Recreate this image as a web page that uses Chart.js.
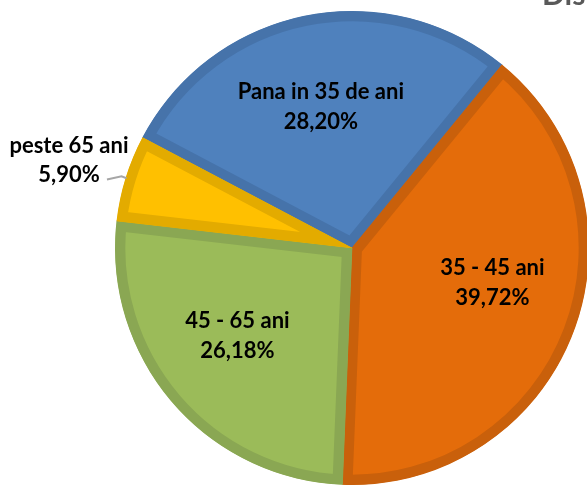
<!DOCTYPE html>
<html>
<head>
<meta charset="utf-8">
<script src="https://cdn.jsdelivr.net/npm/chart.js@4.4.0/dist/chart.umd.min.js"></script>
<style>
  html, body { margin: 0; padding: 0; background: #fff; overflow: hidden; width: 587px; height: 487px; }
  #wrap { position: absolute; left: 0; top: 0; width: 704px; height: 496px; }
  #title { position: absolute; left: 542px; top: -22px; font: bold 30px/30px Lato, sans-serif; color: #595959; white-space: nowrap; }
</style>
</head>
<body>
<div id="wrap"><canvas id="chartCanvas" width="704" height="496"></canvas></div>
<div id="title">Distributia pe varste</div>
<script>
  // date
  const categories = ['Pana in 35 de ani', '35 - 45 ani', '45 - 65 ani', 'peste 65 ani'];
  const procente = [28.20, 39.72, 26.18, 5.90];
  const culori = ['#4f81bd', '#e46c0a', '#9bbb59', '#ffc000'];
  const culoriMargine = ['#4673aa', '#c9600b', '#8aa753', '#e3ab00'];
  const etichetaExterioara = [false, false, false, true];

  const fmt = v => v.toFixed(2).replace('.', ',') + '%';

  // mica ajustare a unghiului etichetei fata de mijlocul feliei (grade)
  const ajustareUnghi = [-1, -7, 3, 0];

  const labelPlugin = {
    id: 'etichete',
    afterDatasetsDraw(chart) {
      const c = chart.ctx;
      const arcs = chart.getDatasetMeta(0).data;
      c.save();
      c.font = 'bold 22px Lato, sans-serif';
      c.fillStyle = '#000';
      c.textAlign = 'center';
      c.textBaseline = 'middle';
      arcs.forEach((arc, i) => {
        const p = arc.getProps(['x', 'y', 'startAngle', 'endAngle', 'outerRadius'], true);
        const mid = (p.startAngle + p.endAngle) / 2 + ajustareUnghi[i] * Math.PI / 180;
        const cos = Math.cos(mid), sin = Math.sin(mid);
        if (etichetaExterioara[i]) {
          // eticheta in afara cu linie de legatura
          const ex = p.x + cos * (p.outerRadius - 1), ey = p.y + sin * (p.outerRadius - 1);
          const lx = p.x + cos * p.outerRadius * 1.25, ly = p.y + sin * p.outerRadius * 1.25;
          c.strokeStyle = '#a6a6a6';
          c.lineWidth = 2;
          c.beginPath();
          c.moveTo(ex, ey);
          c.lineTo(ex - 5, ey - 2);
          c.lineTo(lx + 38, ly + 19);
          c.stroke();
          c.fillText(categories[i], lx, ly - 15);
          c.fillText(fmt(procente[i]), lx, ly + 14);
        } else {
          const r = p.outerRadius * 0.61;
          const lx = p.x + cos * r, ly = p.y + sin * r;
          c.fillText(categories[i], lx, ly - 15);
          c.fillText(fmt(procente[i]), lx, ly + 15);
        }
      });
      c.restore();
    }
  };

  const ctx = document.getElementById('chartCanvas').getContext('2d');
  const chart = new Chart(ctx, {
    type: 'pie',
    data: {
      labels: categories,
      datasets: [{
        data: procente,
        backgroundColor: culori,
        borderColor: culoriMargine,
        borderWidth: 10,
        borderAlign: 'inner',
        borderJoinStyle: 'miter',
        hoverOffset: 0
      }]
    },
    options: {
      responsive: false,
      animation: false,
      rotation: -62.2,
      radius: 237,
      layout: { padding: 0 },
      plugins: {
        legend: { display: false },
        tooltip: { enabled: false },
        title: { display: false }
      }
    },
    plugins: [labelPlugin]
  });
</script>
</body>
</html>
